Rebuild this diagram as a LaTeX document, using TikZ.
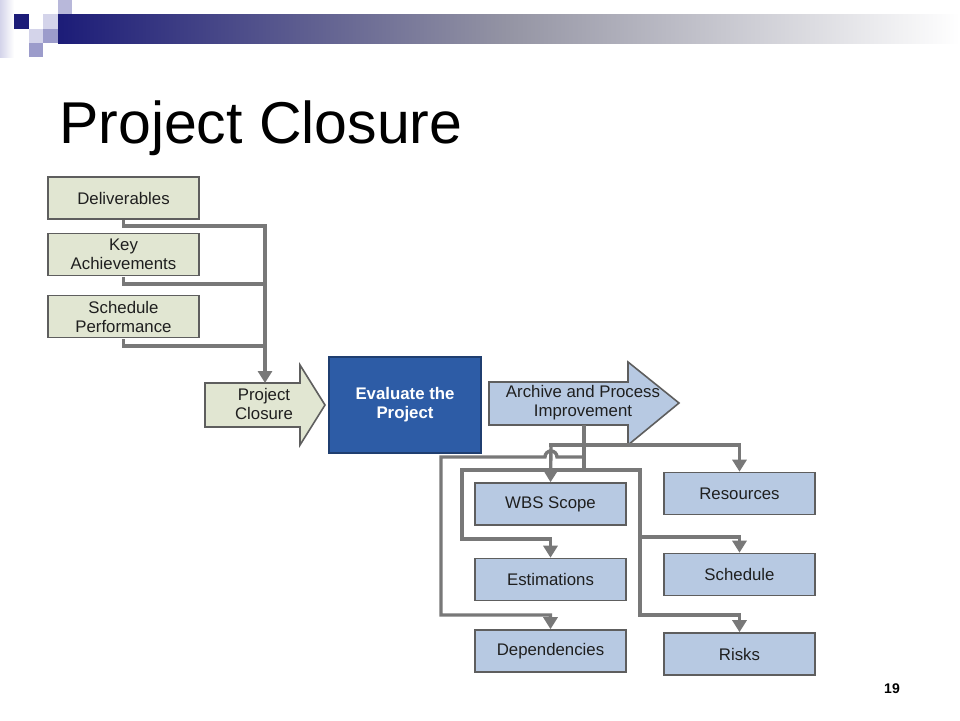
\documentclass[tikz,border=0pt]{standalone}
\usepackage{fontspec}
\setmainfont{Liberation Sans}
\usetikzlibrary{arrows.meta}
\definecolor{navy}{HTML}{1C1C78}
\definecolor{lav1}{HTML}{B8B8DA}
\definecolor{lav2}{HTML}{9C9CCB}
\definecolor{lav3}{HTML}{D4D4EA}
\definecolor{sage}{HTML}{E1E6D2}
\definecolor{edge}{HTML}{5E5E5E}
\definecolor{ltblue}{HTML}{B7C9E2}
\definecolor{midblue}{HTML}{2D5CA6}
\definecolor{darkblue}{HTML}{1F3E70}
\definecolor{conncol}{HTML}{787878}
\begin{document}
\begin{tikzpicture}[x=1pt,y=-1pt,
  txt/.style={font=\fontsize{16.8}{19}\selectfont, align=center, text=black!88},
  gbox/.style={txt, draw=edge, fill=sage, line width=1.6pt, minimum width=151pt, minimum height=42pt, inner sep=1pt},
  lbox/.style={txt, draw=edge, fill=ltblue, line width=1.6pt, minimum width=151pt, minimum height=42pt, inner sep=1pt},
  ebox/.style={font=\bfseries\fontsize{16.8}{19}\selectfont, align=center, text=white, draw=darkblue, fill=midblue, line width=1.6pt, minimum width=152pt, minimum height=96pt},
  shapeline/.style={draw=edge, line width=1.6pt},
  wire/.style={draw=conncol, line width=3.4pt, line cap=rect},
  conn/.style={wire, -{Triangle[width=14pt,length=12pt]}}
]
\useasboundingbox (0,0) rectangle (960,720);
\fill[white] (0,0) rectangle (960,720);
% header decoration
\shade[left color=lav3, right color=white] (0,0) rectangle (14,57);
\fill[navy] (14,14) rectangle (29,29);
\fill[lav1] (58,0) rectangle (72,14);
\fill[lav3] (43,14) rectangle (58,29);
\fill[lav3] (29,29) rectangle (43,43);
\fill[lav2] (43,29) rectangle (58,43);
\fill[lav2] (29,43) rectangle (43,57);
\shade[left color=navy, right color=white, middle color=black!30!lav3] (58,14) rectangle (960,43);
% title
\node[anchor=base west, font=\fontsize{59}{61}\selectfont, inner sep=0pt] (title) at (59,143) {Project Closure};
% left boxes
\node[gbox] (deliv) at (123.5,198) {Deliverables};
\node[gbox] (keyach) at (123.5,254.5) {Key\\Achievements};
\node[gbox] (schedperf) at (123.5,316.5) {Schedule\\Performance};
% project closure arrow
\draw[shapeline, fill=sage] (205,383) -- (300,383) -- (300,365) -- (325,405) -- (300,445) -- (300,427) -- (205,427) -- cycle;
\node[txt] (pc) at (264,404) {Project\\Closure};
% evaluate
\node[ebox] (eval) at (405,405) {Evaluate the\\Project};
% archive arrow
\draw[shapeline, fill=ltblue] (489,382) -- (628,382) -- (628,362) -- (679,403) -- (628,445) -- (628,425) -- (489,425) -- cycle;
\node[txt] (arch) at (583,403) {Archive and Process\\Improvement};
% right boxes
\node[lbox] (wbs) at (550.5,504) {WBS Scope};
\node[lbox] (est) at (550.5,579.5) {Estimations};
\node[lbox] (dep) at (550.5,651) {Dependencies};
\node[lbox] (res) at (739.5,493.5) {Resources};
\node[lbox] (sch) at (739.5,574.5) {Schedule};
\node[lbox] (risk) at (739.5,654) {Risks};
% page number
\node[font=\bfseries\fontsize{14}{16}\selectfont] (pg) at (892,689) {19};
% left connectors
\coordinate (jd) at (265,226);
\coordinate (jk) at (265,284);
\coordinate (js) at (265,346);
\coordinate (pctop) at (265,383);
\draw[wire] ([yshift=-2pt]deliv.south) |- (jd);
\draw[wire] ([yshift=-2pt]keyach.south) |- (jk);
\draw[wire] ([yshift=-2pt]schedperf.south) |- (js);
\draw[conn] (jd) -- (pctop);
% right connectors
\coordinate (archbot) at (584,427);
\coordinate (trunkend) at (584,470);
\coordinate (ja) at (551,445);
\coordinate (jb) at (584,457);
\coordinate (jl) at (462,470);
\coordinate (jr) at (640,470);
\coordinate (jsch) at (640,537);
\draw[wire] (archbot) -- (trunkend);
\draw[conn] (ja) -| (res.north);
\draw[wire] (jl) -- (jr);
\draw[conn] (jb) -- (557,457) arc (0:-180:6) -- (441,457) -- (441,615) -| (dep.north);
\draw[conn] (jl) -- (462,539) -| (est.north);
\draw[conn] (jr) -- (jsch) -| (sch.north);
\draw[conn] (jsch) -- (640,615) -| (risk.north);
\draw[conn] (ja) -- (wbs.north);
\end{tikzpicture}
\end{document}
